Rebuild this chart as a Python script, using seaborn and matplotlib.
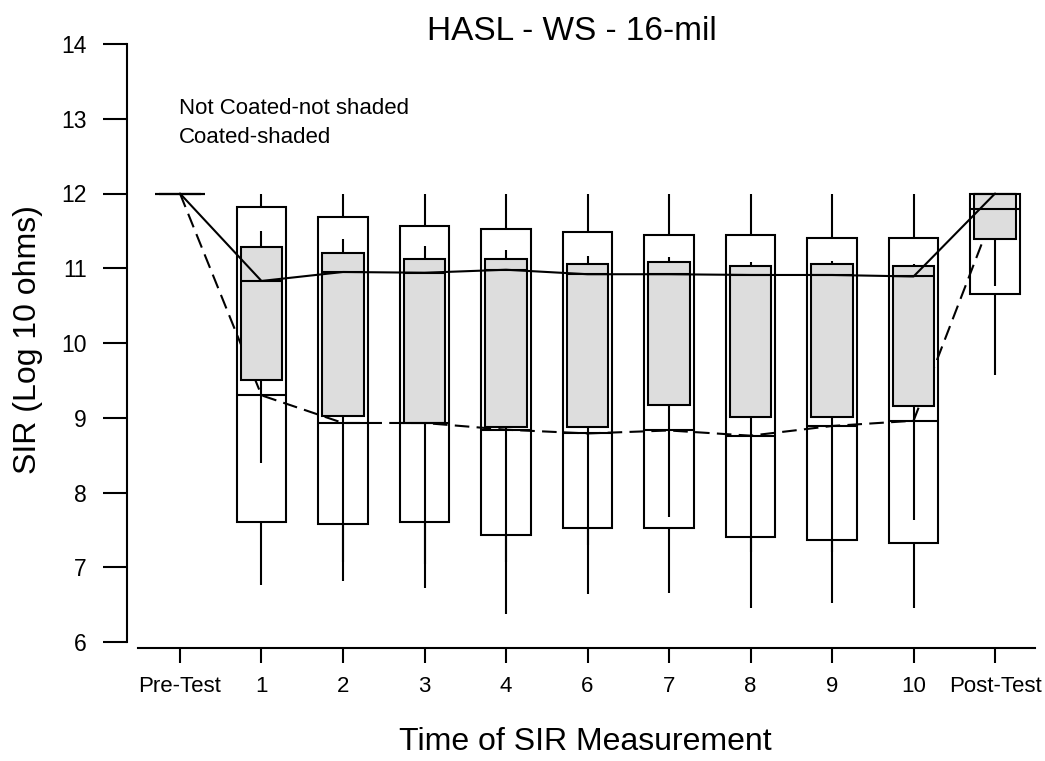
import numpy as np
import pandas as pd
import matplotlib
matplotlib.use("Agg")
import matplotlib.pyplot as plt
import seaborn as sns

# ---------------- data ----------------
categories = ["Pre-Test", "1", "2", "3", "4", "6", "7", "8", "9", "10", "Post-Test"]

# Not coated (white, unshaded boxes)
nc_min = [12.00, 6.76, 6.81, 6.72, 6.37, 6.64, 6.66, 6.46, 6.52, 6.46, 9.57]
nc_q1 = [12.00, 7.61, 7.58, 7.61, 7.43, 7.53, 7.53, 7.41, 7.37, 7.32, 10.66]
nc_med = [12.00, 9.30, 8.93, 8.93, 8.84, 8.79, 8.83, 8.76, 8.89, 8.96, 11.79]
nc_q3 = [12.00, 11.82, 11.68, 11.56, 11.53, 11.48, 11.44, 11.44, 11.41, 11.41, 12.00]
nc_max = [12.00, 12.00, 12.00, 12.00, 12.00, 12.00, 12.00, 12.00, 12.00, 12.00, 12.00]

# Coated (shaded boxes)
c_min = [12.00, 8.40, 7.07, 7.05, 7.07, 7.30, 7.67, 7.20, 7.20, 7.63, 10.76]
c_q1 = [12.00, 9.51, 9.02, 8.93, 8.88, 8.87, 9.17, 9.01, 9.01, 9.16, 11.39]
c_med = [12.00, 10.83, 10.95, 10.94, 10.98, 10.92, 10.92, 10.91, 10.91, 10.89, 12.00]
c_q3 = [12.00, 11.29, 11.21, 11.12, 11.12, 11.06, 11.09, 11.03, 11.06, 11.03, 12.00]
c_max = [12.00, 11.50, 11.39, 11.30, 11.24, 11.16, 11.15, 11.09, 11.10, 11.06, 12.00]

title = "HASL - WS - 16-mil"
xlabel = "Time of SIR Measurement"
ylabel = "SIR (Log 10 ohms)"
note1 = "Not Coated-not shaded"
note2 = "Coated-shaded"


def five_point_frame(mins, q1s, meds, q3s, maxs):
    # five values per group reproduce min/quartiles/median/max exactly
    rows = []
    for cat, a, b, c, d, e in zip(categories, mins, q1s, meds, q3s, maxs):
        for v in (a, b, c, d, e):
            rows.append({"time": cat, "sir": v})
    return pd.DataFrame(rows)


df_nc = five_point_frame(nc_min, nc_q1, nc_med, nc_q3, nc_max)
df_c = five_point_frame(c_min, c_q1, c_med, c_q3, c_max)

# ---------------- style ----------------
sns.set_style("ticks")
plt.rcParams["font.family"] = ["Liberation Sans", "DejaVu Sans"]
plt.rcParams["axes.linewidth"] = 1.5
plt.rcParams["axes.edgecolor"] = "black"
plt.rcParams["text.color"] = "black"
plt.rcParams["xtick.color"] = "black"
plt.rcParams["ytick.color"] = "black"

W, H = 1045, 761
fig = plt.figure(figsize=(W / 100, H / 100), dpi=100)
ax = fig.add_axes([138 / W, (H - 642) / H, (1035 - 138) / W, (642 - 44) / H])

box_kws = dict(x="time", y="sir", order=categories, saturation=1,
               whis=(0, 100), showcaps=False, linecolor="black",
               linewidth=1.5, fliersize=0, ax=ax)

sns.boxplot(data=df_nc, color="white", width=0.61, **box_kws)
sns.lineplot(x=categories, y=nc_med, color="black", linewidth=1.5,
             linestyle=(0, (7, 3.5)), ax=ax)
sns.boxplot(data=df_c, color="#DDDDDD", width=0.51, **box_kws)
sns.lineplot(x=categories, y=c_med, color="black", linewidth=1.5, ax=ax)

ax.set_xlim(-0.515, 10.49)
ax.set_ylim(6, 14)
ax.set_yticks(range(6, 15))
ax.set_xticks(range(len(categories)))
ax.set_xticklabels(categories)
ax.set_xlabel("")
ax.set_ylabel("")

sns.despine(ax=ax)
ax.spines["left"].set_position(("outward", 7.9))
ax.spines["left"].set_bounds(6, 14)
ax.spines["bottom"].set_position(("outward", 4.3))

ax.tick_params(axis="y", length=17.5, width=1.5, pad=11.5, labelsize=16.5,
               direction="out", left=True, colors="black", labelcolor="black")
ax.tick_params(axis="x", length=10.8, width=1.5, pad=9.4, labelsize=16,
               direction="out", bottom=True, colors="black", labelcolor="black")

fig.text(427 / W, (H - 40) / H, title, fontsize=24, ha="left", va="baseline",
         color="black")
fig.text(585 / W, (H - 750) / H, xlabel, fontsize=23, ha="center",
         va="baseline", color="black")
fig.text(36 / W, (H - 340) / H, ylabel, fontsize=23, rotation=90,
         rotation_mode="anchor", ha="center", va="baseline", color="black")
fig.text(179 / W, (H - 114) / H, note1, fontsize=16, ha="left",
         va="baseline", color="black")
fig.text(179 / W, (H - 143) / H, note2, fontsize=16, ha="left",
         va="baseline", color="black")

fig.savefig("out.png", dpi=100)
